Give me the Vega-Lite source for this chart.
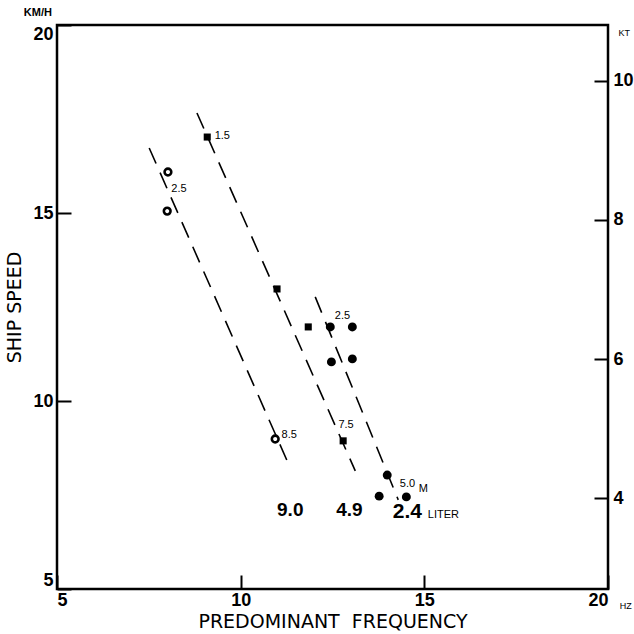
{
  "$schema": "https://vega.github.io/schema/vega-lite/v6.json",
  "width": 551,
  "height": 564,
  "autosize": "none",
  "padding": {"left": 57, "top": 25, "right": 26, "bottom": 45},
  "background": "white",
  "config": {
    "view": {"stroke": "black", "strokeWidth": 2.5},
    "font": "Liberation Sans",
    "axis": {
      "domain": false,
      "grid": false,
      "tickColor": "black",
      "tickWidth": 2,
      "tickSize": -14,
      "labelColor": "black",
      "labelFont": "Liberation Sans",
      "labelFontSize": 18,
      "labelFontWeight": "bold",
      "titleColor": "black",
      "titleFont": "DejaVu Sans",
      "titleFontSize": 19,
      "titleFontWeight": "normal"
    }
  },
  "datasets": {
    "points": [
      {"f": 8.02, "v": 16.09, "kind": "open"},
      {"f": 8.0, "v": 15.05, "kind": "open"},
      {"f": 10.94, "v": 8.99, "kind": "open"},
      {"f": 9.09, "v": 17.02, "kind": "square"},
      {"f": 10.99, "v": 12.98, "kind": "square"},
      {"f": 11.84, "v": 11.97, "kind": "square"},
      {"f": 12.79, "v": 8.94, "kind": "square"},
      {"f": 12.44, "v": 11.97, "kind": "filled"},
      {"f": 13.04, "v": 11.97, "kind": "filled"},
      {"f": 12.47, "v": 11.04, "kind": "filled"},
      {"f": 13.04, "v": 11.12, "kind": "filled"},
      {"f": 13.99, "v": 8.03, "kind": "filled"},
      {"f": 13.77, "v": 7.47, "kind": "filled"},
      {"f": 14.51, "v": 7.45, "kind": "filled"}
    ],
    "lines": [
      {"f": 7.51, "v": 16.73, "id": "a"},
      {"f": 11.35, "v": 8.22, "id": "a"},
      {"f": 8.81, "v": 17.66, "id": "b"},
      {"f": 13.12, "v": 8.14, "id": "b"},
      {"f": 12.03, "v": 12.77, "id": "c"},
      {"f": 14.29, "v": 7.37, "id": "c"}
    ],
    "labels": [
      {"f": 9.5, "v": 17.05, "t": "1.5", "g": "small"},
      {"f": 8.32, "v": 15.64, "t": "2.5", "g": "small"},
      {"f": 11.32, "v": 9.1, "t": "8.5", "g": "small"},
      {"f": 12.77, "v": 12.26, "t": "2.5", "g": "small"},
      {"f": 12.87, "v": 9.36, "t": "7.5", "g": "small"},
      {"f": 14.54, "v": 7.79, "t": "5.0", "g": "small"},
      {"f": 14.97, "v": 7.66, "t": "M", "g": "small"},
      {"f": 15.52, "v": 6.98, "t": "LITER", "g": "small"},
      {"f": 11.35, "v": 7.1, "t": "9.0", "g": "big"},
      {"f": 12.96, "v": 7.1, "t": "4.9", "g": "big"},
      {"f": 14.54, "v": 7.05, "t": "2.4", "g": "bigger"},
      {"f": 4.48, "v": 20.32, "t": "KM/H", "g": "unit"},
      {"f": 20.48, "v": 4.55, "t": "HZ", "g": "tiny"}
    ],
    "knots": [{"kt": 4}, {"kt": 10}]
  },
  "layer": [
    {
      "encoding": {
        "x": {
          "field": "f",
          "type": "quantitative",
          "scale": {"domain": [5, 20], "nice": false, "zero": false},
          "axis": {
            "values": [5, 10, 15, 20],
            "title": "PREDOMINANT\u00a0\u00a0FREQUENCY",
            "labelPadding": 16,
            "titlePadding": 3
          }
        },
        "y": {
          "field": "v",
          "type": "quantitative",
          "scale": {"domain": [5, 20], "nice": false, "zero": false},
          "axis": {
            "values": [5, 10, 15, 20],
            "title": "SHIP SPEED",
            "labelPadding": 18,
            "labelFlush": true,
            "titlePadding": 8
          }
        }
      },
      "layer": [
        {
          "data": {"name": "lines"},
          "mark": {"type": "line", "color": "black", "strokeWidth": 1.6, "strokeDash": [17, 10]},
          "encoding": {"detail": {"field": "id"}}
        },
        {
          "data": {"name": "points"},
          "transform": [{"filter": "datum.kind == 'open'"}],
          "mark": {"type": "point", "shape": "circle", "filled": false, "color": "black", "strokeWidth": 2.6, "size": 45, "opacity": 1}
        },
        {
          "data": {"name": "points"},
          "transform": [{"filter": "datum.kind == 'square'"}],
          "mark": {"type": "point", "shape": "square", "filled": true, "color": "black", "size": 50, "opacity": 1}
        },
        {
          "data": {"name": "points"},
          "transform": [{"filter": "datum.kind == 'filled'"}],
          "mark": {"type": "point", "shape": "circle", "filled": true, "color": "black", "size": 80, "opacity": 1}
        },
        {
          "data": {"name": "labels"},
          "transform": [{"filter": "datum.g == 'small'"}],
          "mark": {"type": "text", "fontSize": 11, "color": "black", "align": "center", "baseline": "middle"},
          "encoding": {"text": {"field": "t"}}
        },
        {
          "data": {"name": "labels"},
          "transform": [{"filter": "datum.g == 'big'"}],
          "mark": {"type": "text", "fontSize": 19, "fontWeight": "bold", "color": "black", "align": "center", "baseline": "middle"},
          "encoding": {"text": {"field": "t"}}
        },
        {
          "data": {"name": "labels"},
          "transform": [{"filter": "datum.g == 'bigger'"}],
          "mark": {"type": "text", "fontSize": 21, "fontWeight": "bold", "color": "black", "align": "center", "baseline": "middle"},
          "encoding": {"text": {"field": "t"}}
        },
        {
          "data": {"name": "labels"},
          "transform": [{"filter": "datum.g == 'unit'"}],
          "mark": {"type": "text", "fontSize": 11, "fontWeight": "bold", "color": "black", "align": "center", "baseline": "middle"},
          "encoding": {"text": {"field": "t"}}
        },
        {
          "data": {"name": "labels"},
          "transform": [{"filter": "datum.g == 'tiny'"}],
          "mark": {"type": "text", "fontSize": 9, "color": "black", "align": "center", "baseline": "middle"},
          "encoding": {"text": {"field": "t"}}
        }
      ]
    },
    {
      "data": {"name": "knots"},
      "mark": {"type": "point", "opacity": 0},
      "encoding": {
        "y": {
          "field": "kt",
          "type": "quantitative",
          "scale": {"domain": [2.6998, 10.7991], "nice": false, "zero": false},
          "axis": {
            "orient": "right",
            "values": [4, 6, 8, 10],
            "title": "KT",
            "titleAngle": 0,
            "titleFont": "Liberation Sans",
            "titleFontSize": 9,
            "titleAlign": "left",
            "titleBaseline": "middle",
            "titleX": 10,
            "titleY": 7,
            "labelPadding": 19
          }
        }
      }
    }
  ],
  "resolve": {"scale": {"y": "independent"}, "axis": {"y": "independent"}}
}
